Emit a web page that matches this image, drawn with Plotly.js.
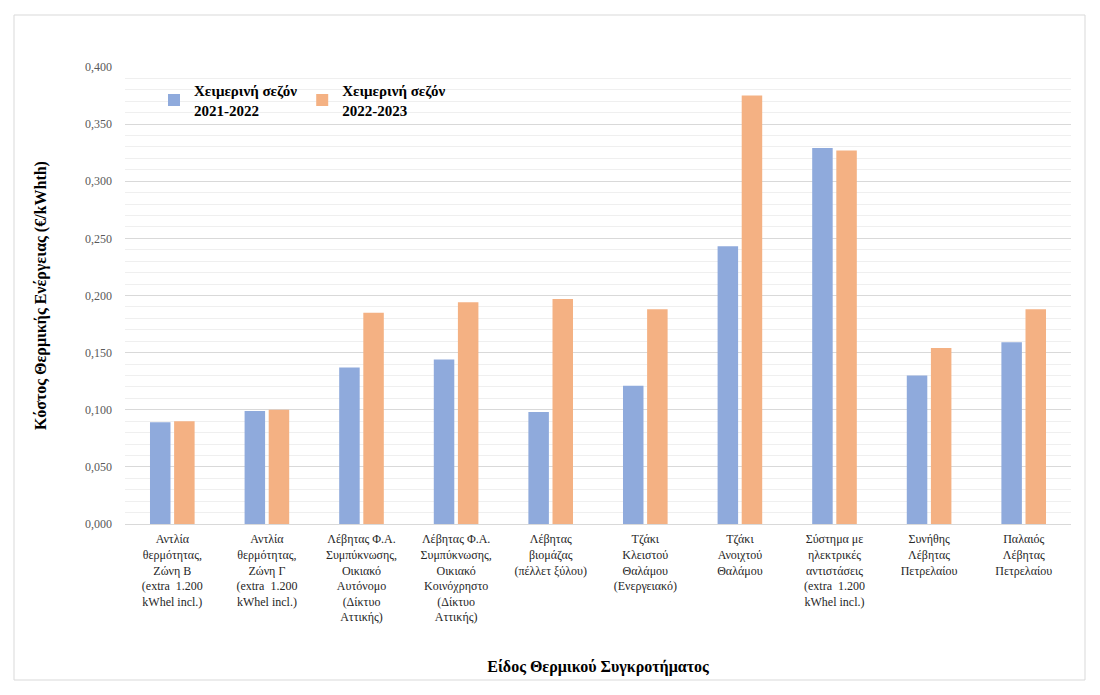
<!DOCTYPE html>
<html>
<head>
<meta charset="utf-8">
<script src="https://cdn.plot.ly/plotly-3.0.1.min.js"></script>
<style>
html,body{margin:0;padding:0;background:#fff;}
#chart{width:1100px;height:695px;}
</style>
</head>
<body>
<div id="chart"></div>
<script>
const categories = [
  "Αντλία<br>θερμότητας,<br>Ζώνη Β<br>(extra  1.200<br>kWhel incl.)",
  "Αντλία<br>θερμότητας,<br>Ζώνη Γ<br>(extra  1.200<br>kWhel incl.)",
  "Λέβητας Φ.Α.<br>Συμπύκνωσης,<br>Οικιακό<br>Αυτόνομο<br>(Δίκτυο<br>Αττικής)",
  "Λέβητας Φ.Α.<br>Συμπύκνωσης,<br>Οικιακό<br>Κοινόχρηστο<br>(Δίκτυο<br>Αττικής)",
  "Λέβητας<br>βιομάζας<br>(πέλλετ ξύλου)",
  "Τζάκι<br>Κλειστού<br>Θαλάμου<br>(Ενεργειακό)",
  "Τζάκι<br>Ανοιχτού<br>Θαλάμου",
  "Σύστημα με<br>ηλεκτρικές<br>αντιστάσεις<br>(extra  1.200<br>kWhel incl.)",
  "Συνήθης<br>Λέβητας<br>Πετρελαίου",
  "Παλαιός<br>Λέβητας<br>Πετρελαίου"
];
const season1Name = "Χειμερινή σεζόν<br>2021-2022";
const season2Name = "Χειμερινή σεζόν<br>2022-2023";
const season1 = [0.089, 0.099, 0.137, 0.144, 0.098, 0.121, 0.243, 0.329, 0.130, 0.159];
const season2 = [0.090, 0.100, 0.185, 0.194, 0.197, 0.188, 0.375, 0.327, 0.154, 0.188];

const serif = "'Liberation Serif', 'Times New Roman', 'DejaVu Serif', serif";

const traces = [
  {type:'bar', x:categories, y:season1, name:season1Name, marker:{color:'#8FAADC'}},
  {type:'bar', x:categories, y:season2, name:season2Name, marker:{color:'#F4B183'}}
];

const L = 125, R = 1071, T = 67, B = 524;
const pw = R - L, ph = B - T;
const px = v => (v - L) / pw;
const py = v => (B - v) / ph;

const layout = {
  width:1100, height:695,
  margin:{l:L, r:1100-R, t:T, b:695-B, pad:0},
  paper_bgcolor:'#fff', plot_bgcolor:'#fff',
  separators:',.',
  font:{family:serif, color:'#262626', size:11},
  barmode:'group', bargap:0.49, bargroupgap:0.15,
  showlegend:true,
  legend:{orientation:'h', x:px(154), y:py(74), xanchor:'left', yanchor:'top',
    font:{family:serif, size:15, color:'#000', weight:'bold'}, bgcolor:'rgba(0,0,0,0)',
    itemwidth:30, tracegroupgap:0, traceorder:'normal'},
  xaxis:{type:'category', showgrid:false, zeroline:false, showline:true, linecolor:'#d9d9d9', linewidth:1,
    ticks:'', tickangle:0, tickfont:{family:serif, size:12, color:'#262626'}, automargin:false,
    ticklabelstandoff:4,
    title:{text:'Είδος Θερμικού Συγκροτήματος', font:{family:serif, size:16, color:'#000', weight:'bold'}, standoff:0}},
  yaxis:{range:[0,0.4], dtick:0.05, tickformat:'.3f', showgrid:true, gridcolor:'#d9d9d9', gridwidth:1,
    zeroline:false, showline:false, ticks:'', ticklabelstandoff:12, automargin:false,
    tickfont:{family:serif, size:12, color:'#595959'},
    minor:{dtick:0.01, showgrid:true, gridcolor:'#efefef', gridwidth:1},
    title:{text:'Κόστος Θερμικής Ενέργειας (€/kWhth)', font:{family:serif, size:16, color:'#000', weight:'bold'}, standoff:34}},
  shapes:[{type:'rect', xref:'paper', yref:'paper', x0:px(14), x1:px(1085), y0:py(680), y1:py(15),
    line:{color:'#d9d9d9', width:1}, fillcolor:'rgba(0,0,0,0)', layer:'below'}]
};

Plotly.newPlot('chart', traces, layout, {staticPlot:true, displayModeBar:false}).then(()=>{
  const xt = document.querySelector('.g-xtitle text');
  if (xt) { xt.setAttribute('y', 669); }
});
</script>
</body>
</html>
